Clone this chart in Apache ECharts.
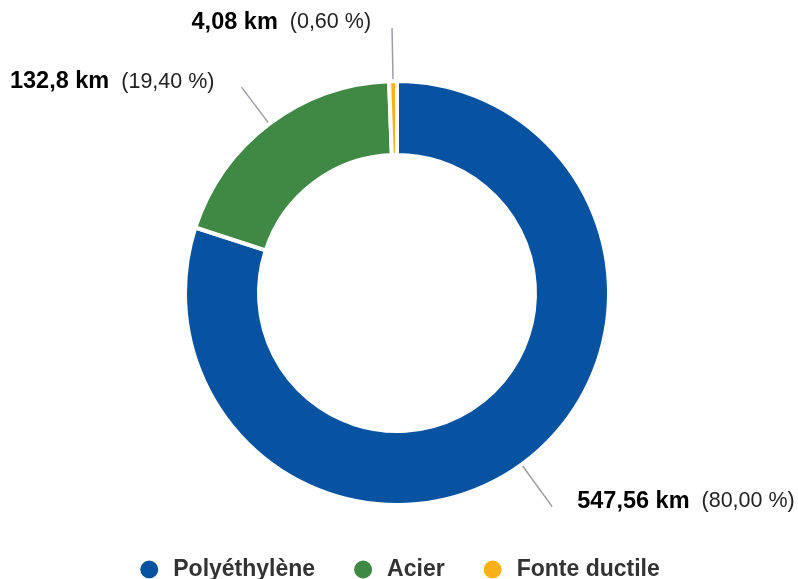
<!DOCTYPE html>
<html>
<head>
<meta charset="utf-8">
<script src="https://cdn.jsdelivr.net/npm/echarts@6/dist/echarts.min.js"></script>
<style>
  html, body { margin: 0; padding: 0; background: #fff; }
  #chart { width: 798px; height: 579px; }
</style>
</head>
<body>
<div id="chart"></div>
<script>
// Network length by pipe material (km)
const materials = ['Polyéthylène', 'Acier', 'Fonte ductile'];
const lengthsKm = [547.56, 132.8, 4.08];
const colors = ['#0753a1', '#3f8944', '#fbb116'];
// Connector per slice: [radial length, horizontal length, gap to text]
const connectors = [[52, 0, 25], [46, 0, 27], [53, 0, 21]];

const FONT = '"Liberation Sans", Arial, Helvetica, sans-serif';
const fr = (v) => String(v).replace('.', ',');

const chart = echarts.init(document.getElementById('chart'), null, { renderer: 'canvas' });

chart.setOption({
  animation: false,
  color: colors,
  legend: {
    top: 553,
    left: 'center',
    icon: 'circle',
    itemWidth: 20,
    itemHeight: 20,
    itemGap: 37,
    data: materials,
    textStyle: {
      fontFamily: FONT,
      fontSize: 23,
      fontWeight: 'bold',
      color: '#333',
      padding: [0, 0, 0, 9]
    }
  },
  series: [{
    type: 'pie',
    center: [397, 293],
    radius: [138, 212],
    startAngle: 90,
    clockwise: true,
    avoidLabelOverlap: false,
    itemStyle: { borderColor: '#fff', borderWidth: 4 },
    emphasis: { disabled: true },
    label: {
      show: true,
      position: 'outside',
      bleedMargin: 0,
      overflow: 'none',
      padding: [0, 0, 11, 0],
      formatter: (p) => '{v|' + fr(p.value) + ' km}{s| }{p|(' + p.percent.toFixed(2).replace('.', ',') + ' %)}',
      rich: {
        v: { fontFamily: FONT, fontSize: 23.5, fontWeight: 'bold', color: '#000' },
        s: { fontFamily: FONT, fontSize: 21, width: 12 },
        p: { fontFamily: FONT, fontSize: 21.5, color: '#222' }
      }
    },
    labelLine: {
      show: true,
      lineStyle: { color: '#9d9da6', width: 1.5 }
    },
    data: materials.map((name, i) => ({
      name: name,
      value: lengthsKm[i],
      label: { distanceToLabelLine: connectors[i][2] },
      labelLine: { length: connectors[i][0], length2: connectors[i][1] }
    }))
  }]
});
</script>
</body>
</html>
